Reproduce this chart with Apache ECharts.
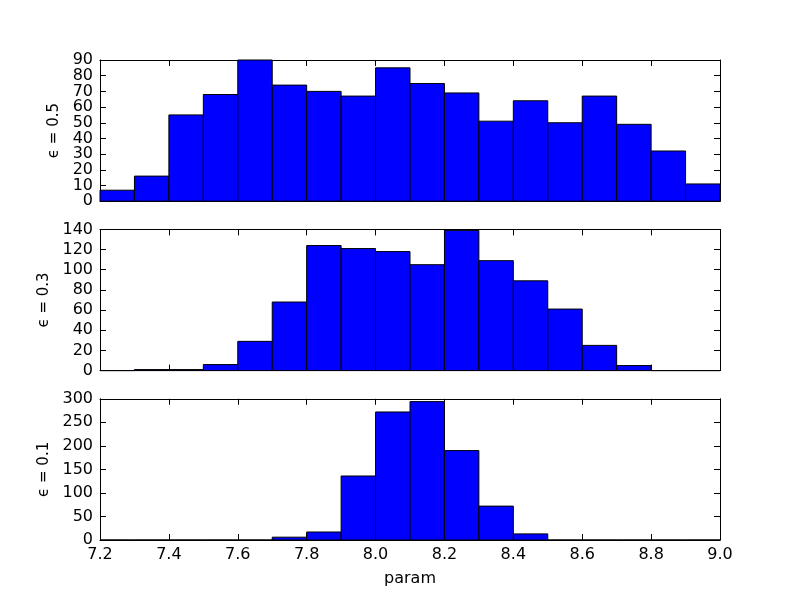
<!DOCTYPE html>
<html>
<head>
<meta charset="utf-8">
<script src="https://cdn.jsdelivr.net/npm/echarts@6/dist/echarts.min.js"></script>
<style>html,body{margin:0;padding:0;background:#fff}#c{width:800px;height:600px}</style>
</head>
<body>
<div id="c"></div>
<script>
// bin edges (left, right)
var binLeft  = [7.2,7.3,7.4,7.5,7.6,7.7,7.8,7.9,8.0,8.1,8.2,8.3,8.4,8.5,8.6,8.7,8.8,8.9];
var binRight = [7.3,7.4,7.5,7.6,7.7,7.8,7.9,8.0,8.1,8.2,8.3,8.4,8.5,8.6,8.7,8.8,8.9,9.0];
// counts per bin
var counts05 = [7,16,55,68,90,74,70,67,85,75,69,51,64,50,67,49,32,11];
var counts03 = [0,1,1,6,29,68,124,121,118,105,139,109,89,61,25,5,0,0];
var counts01 = [0,0,0,0,0,6,17,136,272,294,190,72,13,0,0,0,0,0];
var panelLabels = ['\u03f5 = 0.5', '\u03f5 = 0.3', '\u03f5 = 0.1'];
var yMax = [90, 140, 300];
var yInterval = [10, 20, 50];
var xMin = 7.2, xMax = 9.0, xInterval = 0.2;
var xTickLabels = ['7.2','7.4','7.6','7.8','8.0','8.2','8.4','8.6','8.8','9.0'];
var xName = 'param';

var allCounts = [counts05, counts03, counts01];
var font = 'DejaVu Sans';
var tops = [60, 229.4, 398.8];
var h = 141.2;

var grids = [], xAxes = [], yAxes = [], series = [];
for (var p = 0; p < 3; p++) {
  grids.push({left: 100, right: 80, top: tops[p], height: h, containLabel: false});
  var last = (p === 2);
  xAxes.push({
    type: 'value', gridIndex: p, min: xMin, max: xMax, interval: xInterval, position: 'bottom',
    axisLine: {onZero: false, lineStyle: {color: '#000', width: 1}},
    axisTick: {inside: true, length: 6, lineStyle: {color: '#000'}},
    axisLabel: {show: last, color: '#000', fontFamily: font, fontSize: 16, margin: 7,
      showMinLabel: true, showMaxLabel: true, hideOverlap: false,
      formatter: function (v) { var i = Math.round((v - xMin) / xInterval); return xTickLabels[i]; }},
    splitLine: {show: false},
    name: last ? xName : '', nameLocation: 'middle', nameGap: 31,
    nameTextStyle: {color: '#000', fontFamily: font, fontSize: 16}
  });
  (function (mx) {
    // interior tick labels
    yAxes.push({
      type: 'value', gridIndex: p, min: 0, max: mx, interval: yInterval[p], position: 'left',
      axisLine: {show: true, onZero: false, lineStyle: {color: '#000', width: 1}},
      axisTick: {show: true, inside: true, length: 6, lineStyle: {color: '#000'}},
      axisLabel: {color: '#000', fontFamily: font, fontSize: 16, margin: 7,
        showMinLabel: true, showMaxLabel: true, hideOverlap: false,
        formatter: function (v) { return (v === 0 || v === mx) ? '' : String(v); }},
      splitLine: {show: false},
      name: panelLabels[p], nameLocation: 'middle', nameGap: 36, nameRotate: 90,
      nameTextStyle: {color: '#000', fontFamily: font, fontSize: 15}
    });
  })(yMax[p]);
}
for (var p = 0; p < 3; p++) {
  xAxes.push({
    type: 'value', gridIndex: p, min: xMin, max: xMax, interval: xInterval, position: 'top',
    axisLine: {onZero: false, lineStyle: {color: '#000', width: 1}},
    axisTick: {inside: true, length: 6, lineStyle: {color: '#000'}},
    axisLabel: {show: false}, splitLine: {show: false}
  });
  yAxes.push({
    type: 'value', gridIndex: p, min: 0, max: yMax[p], interval: yInterval[p], position: 'right',
    axisLine: {show: true, onZero: false, lineStyle: {color: '#000', width: 1}},
    axisTick: {show: true, inside: true, length: 6, lineStyle: {color: '#000'}},
    axisLabel: {show: false}, splitLine: {show: false}
  });
}
for (var p = 0; p < 3; p++) {
  (function (mx) {
    // end tick labels (0 and max) on a second left axis without line/ticks
    yAxes.push({
      type: 'value', gridIndex: p, min: 0, max: mx, interval: yInterval[p], position: 'left', offset: 0,
      axisLine: {show: false}, axisTick: {show: false}, splitLine: {show: false},
      axisLabel: {color: '#000', fontFamily: font, fontSize: 16, margin: 7,
        showMinLabel: true, showMaxLabel: true, hideOverlap: false,
        formatter: function (v) { return (v === 0 || v === mx) ? String(v) : ''; }}
    });
  })(yMax[p]);
}
for (var p = 0; p < 3; p++) {
  var data = [];
  for (var i = 0; i < binLeft.length; i++) data.push([binLeft[i], binRight[i], allCounts[p][i]]);
  series.push({
    type: 'custom', xAxisIndex: p, yAxisIndex: p, data: data,
    encode: {x: [0, 1], y: 2},
    renderItem: function (params, api) {
      var a = api.coord([api.value(0), api.value(2)]);
      var b = api.coord([api.value(1), 0]);
      return {
        type: 'rect',
        shape: {x: a[0], y: a[1], width: b[0] - a[0], height: b[1] - a[1]},
        style: {fill: '#0000ff', stroke: '#000', lineWidth: 1}
      };
    }
  });
}
var chart = echarts.init(document.getElementById('c'), null, {renderer: 'canvas'});
chart.setOption({animation: false, backgroundColor: '#fff', grid: grids, xAxis: xAxes, yAxis: yAxes, series: series});
</script>
</body>
</html>
